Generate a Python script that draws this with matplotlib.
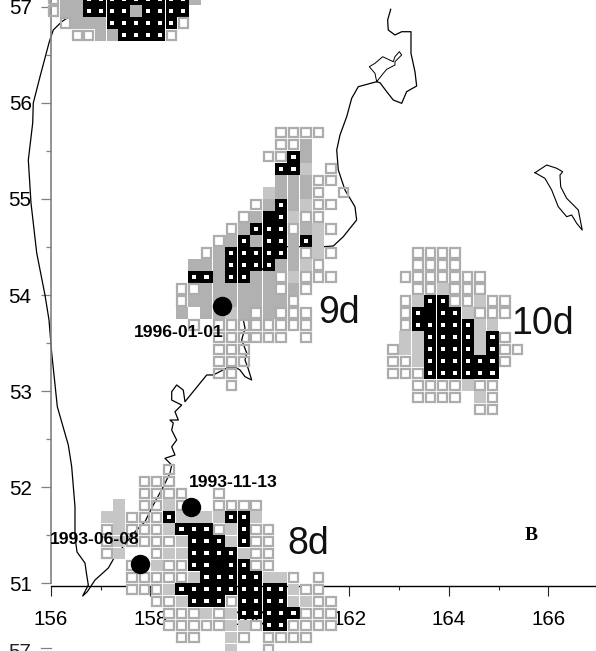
#Drift cells east of Kamchatka, 8-10 day clusters
import matplotlib
matplotlib.use('Agg')
import matplotlib.pyplot as plt
from matplotlib.patches import Rectangle

plt.rcParams['font.family'] = ['Liberation Sans', 'DejaVu Sans']

#cell classes: o open, g grey, l light grey, b black with centre, k solid black
top_rows = ["oggbbbbbbbbbg",
            "oggbbbbgbbbb.",
            ".ogggbbbbbbo.",
            "..ooggbbbbo.."]
top_grid = (156.05, 57.08, 0.237, 0.125)

rows_9d = ["........oooo..",
           "........oog...",
           ".......oobg...",
           "........bbl.o.",
           "........gggoo.",
           ".......lgggo.o",
           "......ogbgloo.",
           ".....ogkbloo..",
           "....ogbbboglo.",
           "...ogbgbbgbl..",
           "..ogbbbbbgolo.",
           ".gggbbbbgglo..",
           ".bbgbbggolooo.",
           "ooggggggogo...",
           "oggggggggo....",
           "g.gglgogooo...",
           ".o.oooooooo...",
           "...oooooo.o...",
           "...ooo........",
           "...ooo........",
           "...oo.........",
           "....o........."]
grid_9d = (158.625, 55.6875, 0.25, 0.125)

rows_10d = ["..oooo.....",
            "..oooo.....",
            ".ooooooo...",
            "..oolooo...",
            ".olbbooloo.",
            ".obkbblooo.",
            ".obbbbbll..",
            ".llbbbblbo.",
            "ollbbbblboo",
            "oolbbbbbbo.",
            "ooobbbbbb..",
            "..ooooloo..",
            "..oooo.lo..",
            ".......oo.."]
grid_10d = (162.875, 54.4375, 0.25, 0.125)

rows_8d = [".....o.............",
           "...ooo.............",
           "...oooo..o.........",
           ".l.oolo..oooo......",
           "llooobllllbbl......",
           "olooolbbbolboo.....",
           "oloooolbbblboo.....",
           "ol..ollbbbbloo.....",
           "..o.loobbkbboo.....",
           "..ooooolbbbbbllo.o.",
           "..ooolbbbbbbbbbloo.",
           "....oolbbbobbbblloo",
           ".....ooololbbbbbooo",
           ".....ooooollobboooo",
           "......oo..lo.oooo..",
           "..........l..o....."]
grid_8d = (157.125, 52.1875, 0.25, 0.125)

#west coast from the north down to the cape, then up the east coast
coast_lon = [156.517, 156.416, 156.215, 156.046, 155.966, 155.779, 155.644, 155.632, 155.544, 155.598,
             155.713, 155.879, 155.960, 156.014, 156.127, 156.348, 156.416, 156.482, 156.482, 156.523,
             156.683, 156.718, 156.750, 156.637, 156.730, 156.884, 157.152, 157.267, 157.688, 157.889,
             158.056, 158.257, 158.392, 158.426, 158.291, 158.492, 158.426, 158.526, 158.426, 158.458,
             158.392, 158.559, 158.492, 158.627, 158.426, 158.426, 158.526, 158.659, 158.693, 159.130,
             159.262, 159.532, 159.733, 159.799, 159.900, 160.034, 159.960, 159.900, 159.934, 159.833,
             159.900, 159.866, 159.986, 160.235, 160.468, 160.703, 161.467, 161.674, 161.875, 162.144,
             162.110, 161.909, 161.775, 161.743, 161.809, 161.944, 162.044, 162.177, 162.547, 162.613,
             162.748, 162.880, 163.049, 163.149, 163.350, 163.316, 163.236, 163.236, 163.049, 162.914,
             162.779, 162.767, 162.828]
coast_lat = [56.983, 56.914, 56.844, 56.758, 56.636, 56.272, 55.998, 55.790, 55.405, 54.957,
             54.437, 54.000, 53.740, 53.397, 52.838, 52.439, 52.213, 51.797, 51.485, 51.326,
             51.211, 51.086, 50.982, 50.868, 50.913, 51.034, 51.159, 51.263, 51.537, 51.641,
             51.815, 52.005, 52.148, 52.231, 52.301, 52.335, 52.421, 52.491, 52.595, 52.668,
             52.699, 52.699, 52.786, 52.855, 52.907, 52.994, 53.064, 53.011, 52.890, 53.168,
             53.168, 53.240, 53.240, 53.220, 53.150, 53.116, 53.240, 53.324, 53.397, 53.532,
             53.657, 53.740, 54.125, 54.260, 54.399, 54.503, 54.503, 54.510, 54.607, 54.781,
             54.919, 55.093, 55.301, 55.509, 55.665, 55.856, 56.047, 56.168, 56.220, 56.209,
             56.116, 56.029, 55.995, 56.116, 56.175, 56.324, 56.515, 56.740, 56.740, 56.706,
             56.758, 56.862, 56.973]

bay_lon = [162.547, 162.680, 162.748, 162.914, 162.914, 163.049, 163.001, 162.914, 162.880, 162.667,
           162.512, 162.398, 162.512, 162.547]
bay_lat = [56.220, 56.307, 56.349, 56.393, 56.428, 56.498, 56.532, 56.480, 56.428, 56.480,
           56.411, 56.376, 56.307, 56.220]

island_lon = [165.729, 165.964, 166.165, 166.285, 166.231, 166.245, 166.366, 166.599, 166.679, 166.567,
              166.466, 166.366, 166.196, 166.064, 165.929, 165.729]
island_lat = [55.273, 55.353, 55.319, 55.283, 55.249, 55.127, 55.006, 54.885, 54.676, 54.746,
              54.833, 54.815, 54.919, 55.093, 55.214, 55.273]

#eruption points and their dates
point_lon = [159.437, 158.824, 157.789]
point_lat = [53.886, 51.794, 51.200]
point_dates = ['1996-01-01', '1993-11-13', '1993-06-08']
date_lon = [157.668, 158.774, 155.980]
date_lat = [53.568, 52.005, 51.409]

day_labels = ['9d', '10d', '8d']
day_lon = [161.367, 165.246, 160.744]
day_lat = [53.709, 53.594, 51.305]

x_major = [156, 158, 160, 162, 164, 166]
x_minor = [157, 159, 161, 163, 165]
y_major = [51, 52, 53, 54, 55, 56, 57]
y_minor = [51.5, 52.5, 53.5, 54.5, 55.5, 56.5]

GREY = '#b1b1b1'
LIGHT = '#c6c6c6'
EDGE = '#adadad'


def cell(ax, lon, lat, dlon, dlat, frac, z, **kw):
    ax.add_patch(Rectangle((lon - dlon*frac/2, lat - dlat*frac/2), dlon*frac, dlat*frac,
                           clip_on=False, zorder=z, **kw))


def draw_cells(ax, rows, grid):
    lon0, lat0, dlon, dlat = grid
    for i, row in enumerate(rows):
        for j, c in enumerate(row):
            lon = lon0 + j*dlon
            lat = lat0 - i*dlat
            if c == 'o':
                cell(ax, lon, lat, dlon, dlat, 0.96, 1, facecolor='white', edgecolor='none')
                cell(ax, lon, lat, dlon, dlat, 0.76, 3, fill=False, edgecolor=EDGE, linewidth=1.6)
            elif c == 'g':
                cell(ax, lon, lat, dlon, dlat, 0.96, 3, facecolor=GREY, edgecolor='none')
            elif c == 'l':
                cell(ax, lon, lat, dlon, dlat, 0.96, 3, facecolor=LIGHT, edgecolor='none')
            elif c in 'bk':
                cell(ax, lon, lat, dlon, dlat, 0.98, 3, facecolor='black', edgecolor='none')
                if c == 'b':
                    cell(ax, lon, lat, dlon, dlat, 0.34, 3.1, facecolor='white', edgecolor='none')


fig = plt.figure(figsize=(5.96, 6.51), dpi=100)
ax = fig.add_axes([51/596, (651-586.3)/651, 545/596, 586.3/651])
ax.set_xlim(156, 166.955)
ax.set_ylim(50.969, 57.07)
ax.set_axisbelow(True)

for s in ['top', 'right']:
    ax.spines[s].set_visible(False)
ax.spines['left'].set_color('#808080')
ax.spines['left'].set_linewidth(1.2)
ax.spines['left'].set_bounds(51, 57.07)
ax.spines['bottom'].set_linewidth(1.0)
ax.spines['bottom'].set_zorder(0.6)

ax.set_xticks(x_major)
ax.set_xticks(x_minor, minor=True)
ax.set_yticks(y_major)
ax.set_yticks(y_minor, minor=True)
ax.tick_params(axis='x', which='major', length=7, width=0.8, labelsize=14.8, pad=10, color='#222222')
ax.tick_params(axis='x', which='minor', length=3, width=0.8, color='#222222')
ax.tick_params(axis='y', which='major', length=7, width=0.9, labelsize=14.8, pad=7, color='#808080')
ax.tick_params(axis='y', which='minor', length=3.5, width=0.9, color='#808080')

draw_cells(ax, top_rows, top_grid)
draw_cells(ax, rows_9d, grid_9d)
draw_cells(ax, rows_10d, grid_10d)
draw_cells(ax, rows_8d, grid_8d)

ax.plot(coast_lon, coast_lat, color='black', lw=0.9, zorder=2, clip_on=False)
ax.plot(bay_lon, bay_lat, color='black', lw=0.7, zorder=2, clip_on=False)
ax.plot(island_lon, island_lat, color='black', lw=0.8, zorder=2, clip_on=False)

ax.scatter(point_lon, point_lat, s=195, color='black', zorder=4, clip_on=False, linewidths=0)
for d, lon, lat in zip(point_dates, date_lon, date_lat):
    ax.text(lon, lat, d, fontsize=12.6, fontweight='bold', va='baseline', ha='left', zorder=5, clip_on=False)
for d, lon, lat in zip(day_labels, day_lon, day_lat):
    ax.text(lon, lat, d, fontsize=27, va='baseline', ha='left', zorder=5, color='#111111')

ax.text(165.528, 51.45, 'B', fontsize=14, fontweight='bold', family='Liberation Serif', va='baseline', ha='left')

#start of the panel below, cut off by the page edge
ax.text(155.6, 50.224, '57', fontsize=14.8, va='baseline', ha='right', clip_on=False, color='#222222')
ax.plot([155.8, 156.0], [50.33, 50.33], color='#808080', lw=0.9, clip_on=False)

fig.savefig('out.png', dpi=100)
